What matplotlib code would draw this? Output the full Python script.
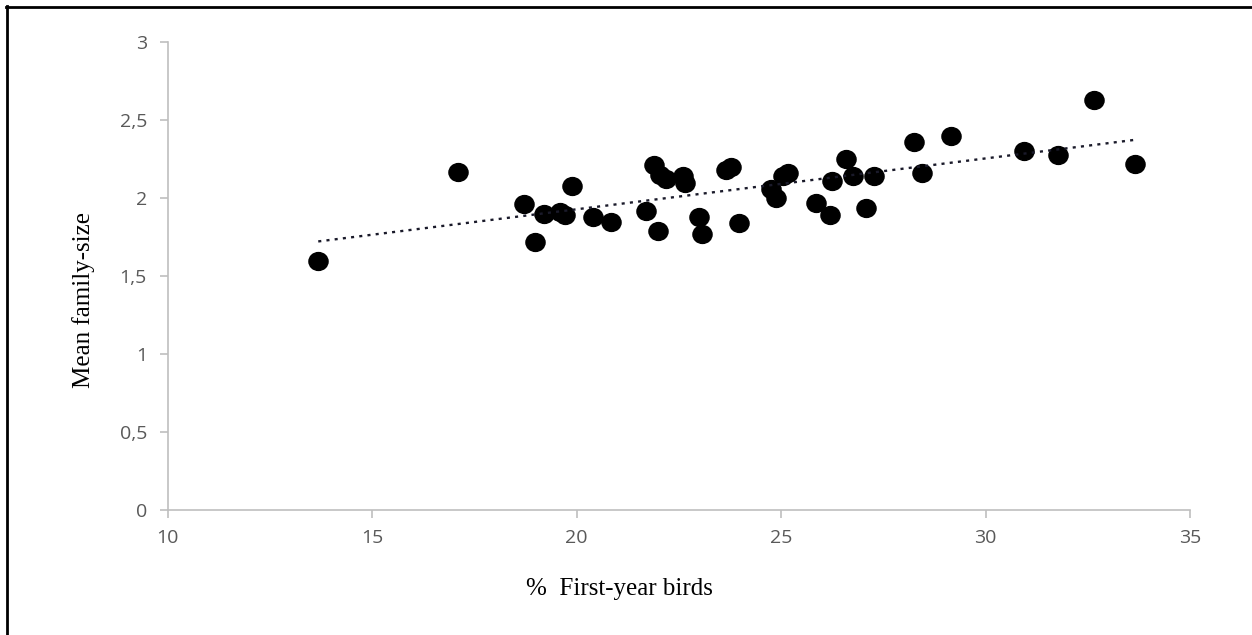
import numpy as np
import matplotlib
matplotlib.use("Agg")
import matplotlib.pyplot as plt
from matplotlib.path import Path
from matplotlib.transforms import Affine2D
from matplotlib.lines import Line2D

# % first-year birds vs mean family size
first_year = [13.68, 17.09, 18.70, 18.99, 19.19, 19.60, 19.72, 19.88, 20.40, 20.85,
              21.69, 21.89, 22.03, 21.99, 22.18, 22.60, 22.66, 22.98, 23.07, 23.66,
              23.78, 23.96, 24.76, 24.88, 25.04, 25.17, 25.86, 26.19, 26.25, 26.58,
              26.75, 27.07, 27.26, 28.24, 28.45, 29.16, 30.95, 31.77, 32.65, 33.66]
family_size = [1.60, 2.17, 1.96, 1.72, 1.90, 1.91, 1.89, 2.08, 1.88, 1.85,
               1.92, 2.21, 2.15, 1.79, 2.12, 2.14, 2.10, 1.88, 1.77, 2.18,
               2.20, 1.84, 2.06, 2.00, 2.14, 2.16, 1.97, 1.89, 2.11, 2.25,
               2.14, 1.94, 2.14, 2.36, 2.16, 2.40, 2.30, 2.28, 2.63, 2.22]

x_ticks = [10, 15, 20, 25, 30, 35]
y_ticks = [0, 0.5, 1, 1.5, 2, 2.5, 3]
y_tick_labels = ["0", "0,5", "1", "1,5", "2", "2,5", "3"]

fig = plt.figure(figsize=(12.52, 6.35), dpi=100)
ax = fig.add_axes([0.134, 0.197, 0.8165, 0.7364])

# slightly wide ellipse marker, like the Excel export
ell = Path.unit_circle().transformed(Affine2D().scale(1.07, 1.0))
ax.scatter(first_year, family_size, marker=ell, s=190, color="black", zorder=3)

# linear trendline
xs = np.array(first_year)
ys = np.array(family_size)
k, b = np.polyfit(xs, ys, 1)
xl = np.array([xs.min(), xs.max()])
ax.plot(xl, k * xl + b, color="#1a1a2a", lw=1.7, linestyle=(0, (1.3, 2.2)),
        dash_capstyle="butt", zorder=4)

ax.set_xlim(10, 35)
ax.set_ylim(0, 3)
ax.set_xticks(x_ticks)
ax.set_xticklabels([str(t) for t in x_ticks])
ax.set_yticks(y_ticks)
ax.set_yticklabels(y_tick_labels)

for s in ["top", "right"]:
    ax.spines[s].set_visible(False)
for s in ["left", "bottom"]:
    ax.spines[s].set_color("#bfbfbf")
    ax.spines[s].set_linewidth(1.2)

ax.tick_params(axis="both", direction="out", length=6, width=1.2, color="#bfbfbf",
               labelcolor="#595959", labelsize=14)
ax.tick_params(axis="x", pad=8)
ax.tick_params(axis="y", pad=9)
for lab in ax.get_xticklabels() + ax.get_yticklabels():
    lab.set_fontfamily("Open Sans")

ax.set_xlabel("%  First-year birds", fontfamily="Liberation Serif", fontsize=18)
ax.xaxis.set_label_coords(0.442, -0.145)
ax.set_ylabel("Mean family-size", fontfamily="Liberation Serif", fontsize=18)
ax.yaxis.set_label_coords(-0.071, 0.449)

# outer frame (only top and left visible in the crop)
fig.add_artist(Line2D([7 / 1252, 7 / 1252], [0, 1 - 6 / 635], transform=fig.transFigure,
                      color="black", lw=2))
fig.add_artist(Line2D([6 / 1252, 1], [1 - 7 / 635, 1 - 7 / 635], transform=fig.transFigure,
                      color="black", lw=2))

fig.savefig("out.png", dpi=100)
